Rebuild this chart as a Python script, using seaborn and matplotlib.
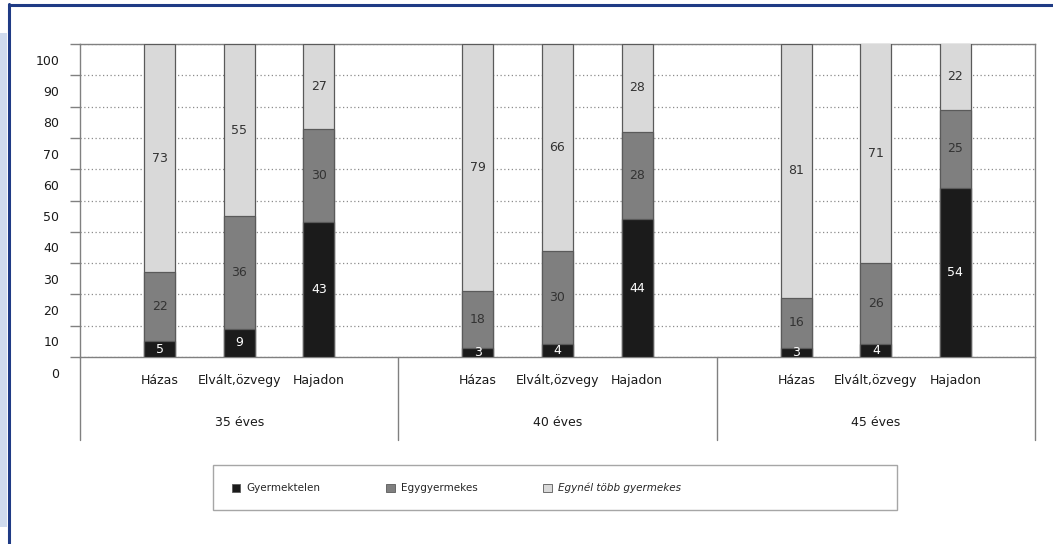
import seaborn as sns
import numpy as np
import pandas as pd
import matplotlib.pyplot as plt
import matplotlib.transforms as mtransforms
from matplotlib.patches import Patch, Rectangle
from matplotlib.lines import Line2D

# data
groups = ['35 éves', '40 éves', '45 éves']
statuses = ['Házas', 'Elvált,özvegy', 'Hajadon']
gyermektelen = [5, 9, 43, 3, 4, 44, 3, 4, 54]
egygyermekes = [22, 36, 30, 18, 30, 28, 16, 26, 25]
tobb_gyermek = [73, 55, 27, 79, 66, 28, 81, 71, 22]
series_names = ['Gyermektelen', 'Egygyermekes', 'Egynél több gyermekes']
y_ticks = [0, 10, 20, 30, 40, 50, 60, 70, 80, 90, 100]

colors = ['#1b1b1b', '#7f7f7f', '#d9d9d9']
edge = '#5a5a5a'

rows = []
for g, grp in enumerate(groups):
    for s, st in enumerate(statuses):
        i = g * len(statuses) + s
        rows.append({'group': grp, 'status': st, 'pos': g * 4 + s + 1,
                     'v1': gyermektelen[i], 'v2': egygyermekes[i], 'v3': tobb_gyermek[i]})
df = pd.DataFrame(rows)
df['c1'] = df['v1']
df['c2'] = df['v1'] + df['v2']
df['c3'] = df['c2'] + df['v3']

sns.set_style('white')
plt.rcParams['font.family'] = ['DejaVu Sans']

fig = plt.figure(figsize=(10.53, 5.44), dpi=100)
ax = fig.add_axes([80 / 1053, 187 / 544, 955 / 1053, 313 / 544])

# stacked bars, drawn as overlaid cumulative bars
for col, c in zip(['c3', 'c2', 'c1'], colors[::-1]):
    sns.barplot(data=df, x='pos', y=col, native_scale=True, color=c,
                saturation=1, width=0.39, edgecolor=edge, linewidth=0.9,
                errorbar=None, ax=ax, zorder=3)

ax.set_xlim(0, 12)
ax.set_ylim(0, 100)
ax.set_xlabel('')
ax.set_ylabel('')

# segment labels
for _, r in df.iterrows():
    bottoms = [0, r['c1'], r['c2']]
    for k, (val, b) in enumerate(zip([r['v1'], r['v2'], r['v3']], bottoms)):
        yc = min(b + val / 2, (b + 100) / 2)
        ax.text(r['pos'], yc, str(val), ha='center', va='center', fontsize=9,
                color='white' if k == 0 else '#333333', zorder=5)

# grid and spines
ax.set_yticks(y_ticks, labels=[str(t) for t in y_ticks])
ax.yaxis.grid(True, linestyle=(0, (1, 2)), color='#8c8c8c', linewidth=0.9, zorder=0)
ax.set_axisbelow(True)
for sp in ax.spines.values():
    sp.set_color('#808080')
    sp.set_linewidth(1)
ax.tick_params(axis='y', length=7, width=1, color='#808080', pad=8,
               labelsize=9, labelcolor='#1a1a1a', left=True)
offset = mtransforms.ScaledTranslation(0, -0.1565, fig.dpi_scale_trans)
for lab in ax.get_yticklabels():
    lab.set_transform(lab.get_transform() + offset)

ax.set_xticks(df['pos'], labels=df['status'])
ax.tick_params(axis='x', length=0, pad=12, labelsize=9, labelcolor='#1a1a1a')

# group separators and group labels below axis
trans = mtransforms.blended_transform_factory(ax.transData, ax.transAxes)
for xs in [0, 4, 8, 12]:
    ax.add_line(Line2D([xs, xs], [0, -0.265], transform=trans, color='#808080',
                       linewidth=1, clip_on=False))
for g, grp in enumerate(groups):
    ax.text(g * 4 + 2, -0.208, grp, transform=trans, ha='center', va='center',
            fontsize=9, color='#1a1a1a')

# legend
handles = [Patch(facecolor=c, edgecolor=edge, linewidth=0.6) for c in colors]
leg = fig.legend(handles, series_names, loc='center left',
                 bbox_to_anchor=(232 / 1053, 1 - 488 / 544), ncol=3, frameon=False,
                 fontsize=7.5, handlelength=0.8, handleheight=0.8,
                 handletextpad=0.6, columnspacing=6.3, borderaxespad=0, borderpad=0)
leg.get_texts()[2].set_style('italic')
fig.add_artist(Rectangle((213 / 1053, 34 / 544), 684 / 1053, 45 / 544,
                         transform=fig.transFigure, facecolor='none',
                         edgecolor='#a6a6a6', linewidth=1))

# page frame
fig.add_artist(Rectangle((0, 17 / 544), 7 / 1053, 494 / 544, transform=fig.transFigure,
                         facecolor='#cfdbee', edgecolor='none'))
fig.add_artist(Line2D([8.5 / 1053, 8.5 / 1053], [0, 1 - 4 / 544], transform=fig.transFigure,
                      color='#1f3b85', linewidth=2.2))
fig.add_artist(Line2D([8.5 / 1053, 1], [1 - 4.5 / 544, 1 - 4.5 / 544], transform=fig.transFigure,
                      color='#1f3b85', linewidth=2.2))

fig.savefig('out.png', dpi=100)
